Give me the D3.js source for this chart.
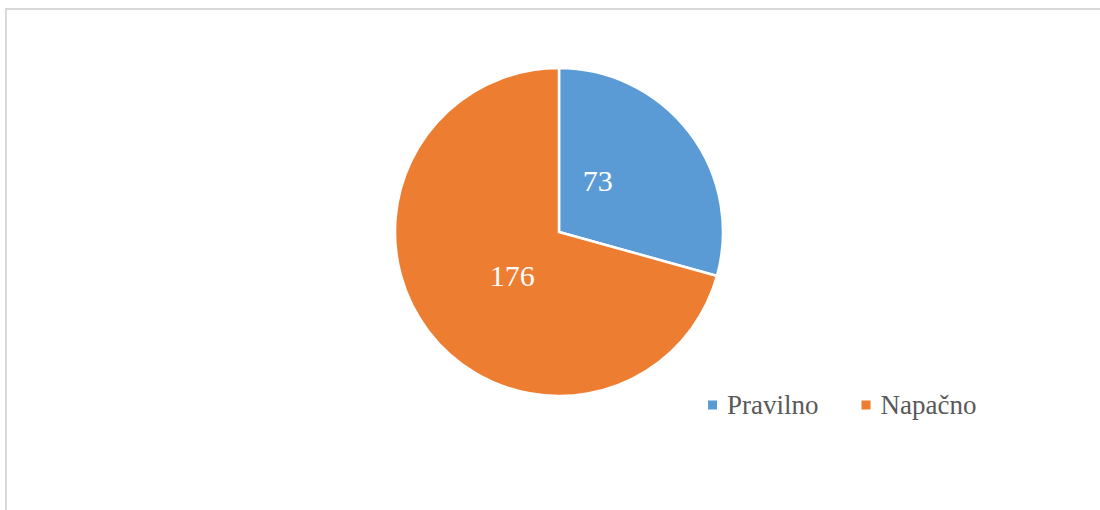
<!DOCTYPE html>
<html>
<head>
    <meta charset="utf-8">
    <title>Pravilno / Napačno</title>
    <style>
        body { margin: 0; background: #fff; }
        .slice { stroke: #fff; stroke-width: 2.5px; }
        .label {
            font-family: "Liberation Serif", Tinos, "DejaVu Serif", serif;
            font-size: 30px;
            fill: #fff;
            text-anchor: middle;
            dominant-baseline: central;
        }
        .legend text {
            font-family: "Liberation Serif", Tinos, "DejaVu Serif", serif;
            font-size: 27px;
            fill: #595959;
            dominant-baseline: central;
        }
    </style>
</head>
<body>
    <svg width="1100" height="510"></svg>

    <script src="https://d3js.org/d3.v7.min.js"></script>
    <script>
        const categories = ["Pravilno", "Napačno"];
        const values = [73, 176];
        const colors = ["#5B9BD5", "#ED7D31"];

        const svg = d3.select("svg");

        // chart frame (right and bottom edges fall outside the window)
        svg.append("rect")
            .attr("x", 6)
            .attr("y", 9)
            .attr("width", 1200)
            .attr("height", 600)
            .attr("fill", "none")
            .attr("stroke", "#d9d9d9")
            .attr("stroke-width", 2);

        const cx = 559, cy = 232, radius = 164;

        const pie = d3.pie().sort(null).value(d => d);
        const arcs = pie(values);

        const arc = d3.arc().innerRadius(0).outerRadius(radius);

        const g = svg.append("g").attr("transform", `translate(${cx},${cy})`);

        g.selectAll(".slice")
            .data(arcs)
            .enter().append("path")
            .attr("class", "slice")
            .attr("fill", (d, i) => colors[i])
            .attr("d", arc);

        g.selectAll(".label")
            .data(arcs)
            .enter().append("text")
            .attr("class", "label")
            .attr("transform", d => {
                // pull the label a bit toward the slice's start, like Excel's best fit
                const mid = (d.startAngle + d.endAngle) / 2 - 0.19;
                const r = 64;
                return `translate(${r * Math.sin(mid)},${-r * Math.cos(mid)})`;
            })
            .attr("dx", -4)
            .attr("dy", -4)
            .text(d => d.data);

        // legend
        const legend = svg.append("g")
            .attr("class", "legend")
            .attr("transform", "translate(708,405)");

        let xPos = 0;
        categories.forEach((c, i) => {
            const item = legend.append("g").attr("transform", `translate(${xPos},0)`);
            item.append("rect")
                .attr("x", 0)
                .attr("y", -4.5)
                .attr("width", 9)
                .attr("height", 9)
                .attr("fill", colors[i]);
            const t = item.append("text")
                .attr("x", 19)
                .attr("y", 0)
                .text(c);
            xPos += 19 + t.node().getComputedTextLength() + 43;
        });
    </script>
</body>
</html>
